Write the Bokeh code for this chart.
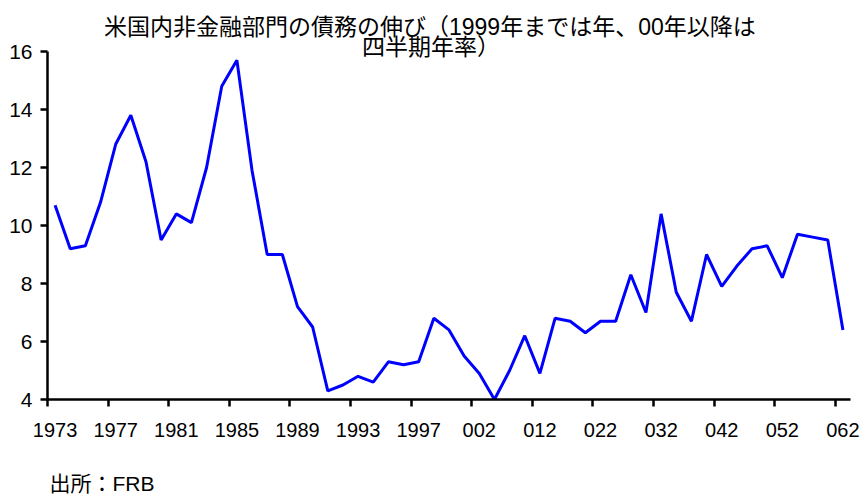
from bokeh.plotting import figure
from bokeh.models import Range1d, FixedTicker, Title, ColumnDataSource
from bokeh.embed import file_html
from bokeh.resources import INLINE

# ---- data ----
categories = [
    "1973", "1974", "1975", "1976", "1977", "1978", "1979", "1980", "1981",
    "1982", "1983", "1984", "1985", "1986", "1987", "1988", "1989", "1990",
    "1991", "1992", "1993", "1994", "1995", "1996", "1997", "1998", "1999",
    "001", "002", "003", "004", "011", "012", "013", "014",
    "021", "022", "023", "024", "031", "032", "033", "034",
    "041", "042", "043", "044", "051", "052", "053", "054",
    "061", "062",
]
growth = [
    10.7, 9.2, 9.3, 10.8, 12.8, 13.8, 12.2, 9.5, 10.4,
    10.1, 12.0, 14.8, 15.7, 11.9, 9.0, 9.0, 7.2, 6.5,
    4.3, 4.5, 4.8, 4.6, 5.3, 5.2, 5.3, 6.8, 6.4,
    5.5, 4.9, 4.0, 5.0, 6.2, 4.9, 6.8, 6.7,
    6.3, 6.7, 6.7, 8.3, 7.0, 10.4, 7.7, 6.7,
    9.0, 7.9, 8.6, 9.2, 9.3, 8.2, 9.7, 9.6,
    9.5, 6.4,
]
tick_labels = ["1973", "1977", "1981", "1985", "1989", "1993", "1997",
               "002", "012", "022", "032", "042", "052", "062"]
y_ticks = [4, 6, 8, 10, 12, 14, 16]
title_line1 = "米国内非金融部門の債務の伸び（1999年までは年、00年以降は"
title_line2 = "四半期年率）"
source_note = "出所：FRB"

# ---- build ----
pos = list(range(len(categories)))
src = ColumnDataSource(data=dict(x=pos, y=growth, cat=categories))

FONT = "'Liberation Sans', 'Noto Sans CJK JP'"

p = figure(width=861, height=496, output_backend="svg", toolbar_location=None,
           title_location=None,
           x_range=Range1d(-0.5, len(categories) - 0.5),
           y_range=Range1d(y_ticks[0], y_ticks[-1]),
           min_border_left=47, min_border_right=11,
           min_border_top=51, min_border_bottom=97)
p.outline_line_color = None
p.xgrid.visible = False
p.ygrid.visible = False
p.background_fill_color = "white"
p.border_fill_color = "white"

p.line("x", "y", source=src, line_color="#0000FF", line_width=3)

major = [categories.index(t) for t in tick_labels]
xa = p.xaxis[0]
xa.ticker = FixedTicker(ticks=major, minor_ticks=[m - 0.5 for m in major])
xa.major_label_overrides = {m: categories[m] for m in major}
xa.major_tick_out = 0
xa.major_tick_in = 0
xa.minor_tick_out = 7
xa.minor_tick_in = 0
xa.minor_tick_line_width = 2.5
xa.minor_tick_line_color = "black"
xa.axis_line_width = 2.5
xa.axis_line_color = "black"
xa.major_label_text_font = "Liberation Sans"
xa.major_label_text_font_size = "20px"
xa.major_label_text_color = "black"
xa.major_label_standoff = 16

ya = p.yaxis[0]
ya.ticker = FixedTicker(ticks=y_ticks)
ya.major_tick_out = 7
ya.major_tick_in = 0
ya.major_tick_line_width = 2.5
ya.major_tick_line_color = "black"
ya.minor_tick_out = 0
ya.minor_tick_in = 0
ya.axis_line_width = 2.5
ya.axis_line_color = "black"
ya.major_label_text_font = "Liberation Sans"
ya.major_label_text_font_size = "21px"
ya.major_label_text_color = "black"
ya.major_label_standoff = 8

# title: second line nearest to the frame, first line above it
p.add_layout(Title(text=title_line2, align="left", offset=314.5, standoff=-16,
                   vertical_align="bottom", text_font=FONT,
                   text_font_size="23px", text_font_style="normal",
                   text_color="black"), "above")
p.add_layout(Title(text=title_line1, align="left", offset=56.5, standoff=0,
                   vertical_align="bottom", text_font=FONT,
                   text_font_size="23px", text_font_style="normal",
                   text_color="black"), "above")

# source note below the x axis
p.add_layout(Title(text="\n\n" + source_note, align="left", offset=2, standoff=-32,
                   vertical_align="bottom", text_font=FONT,
                   text_font_size="21px", text_font_style="normal",
                   text_color="black"), "below")

open("out.html", "w").write(file_html(p, INLINE))
